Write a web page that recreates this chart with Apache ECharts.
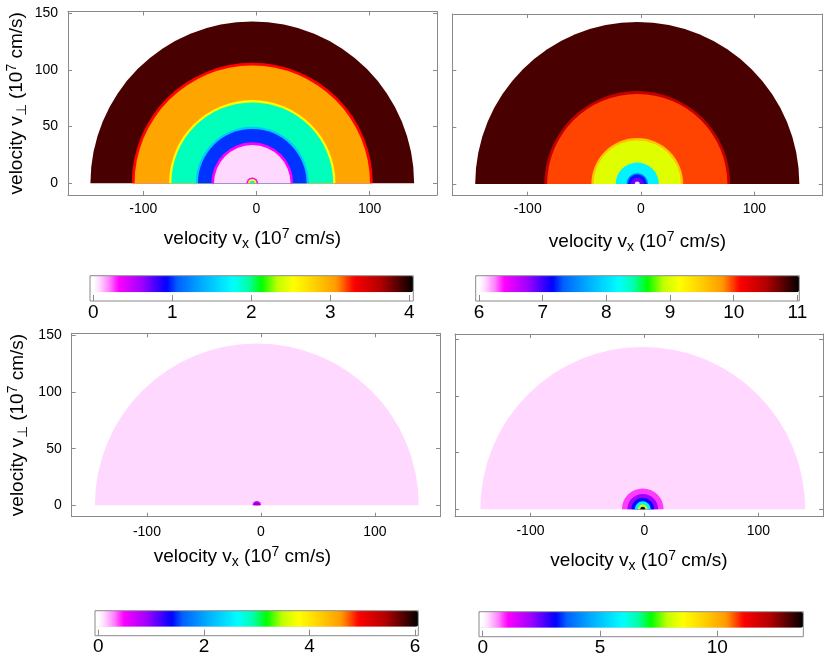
<!DOCTYPE html>
<html>
<head>
<meta charset="utf-8">
<script src="https://cdn.jsdelivr.net/npm/echarts@6/dist/echarts.min.js"></script>
<style>
html,body{margin:0;padding:0;background:#fff;}
#chart{width:830px;height:663px;}
</style>
</head>
<body>
<div id="chart"></div>
<script>
// ---------- data ----------
const xTickValues = [-100, 0, 100];
const yTickValues = [0, 50, 100, 150];
const cb1Ticks = [0, 1, 2, 3, 4];
const cb2Ticks = [6, 7, 8, 9, 10, 11];
const cb3Ticks = [0, 2, 4, 6];
const cb4Ticks = [0, 5, 10];

// rings: outer radius (10^7 cm/s) and colour-scale level, drawn outermost first
const tlCenter = -3.7;
const tlRadius = [143, 106.5, 104, 73.5, 71.5, 50, 48, 36.2, 33.8, 5.2, 3.8, 2.2];
const tlLevel  = [3.88, 3.29, 3.02, 2.53, 1.92, 1.51, 1.00, 0.33, 0.08, 0.33, 2.53, 1.92];

const trCenter = -3.3;
const trRadius = [143, 82, 79.5, 40.5, 38.5, 19, 9.5, 8.3, 5.8, 2.2];
const trLevel  = [10.82, 10.42, 9.98, 9.56, 9.02, 8.13, 7.47, 7.19, 6.91, 6.10];

const blCenter = -3.6;
const blRadius = [142.1, 3.8, 2.8, 1.3];
const blLevel  = [0.12, 0.55, 1.04, 4.96];

const brCenter = -1.5;
const brRadius = [142.5, 18.3, 13.5, 10, 7, 4.2, 2.2];
const brLevel  = [0.26, 0.88, 2.05, 3.16, 5.79, 8.14, 13.53];

// ---------- style ----------
const FONT = '"Liberation Sans", Arial, Helvetica, sans-serif';
const GRAY = '#8a8a8a';
const paletteStops = [
  [0, '#ffffff'], [0.012, '#ffffff'], [0.03, '#ffd8ff'], [0.06, '#ff80ff'], [0.088, '#ff00ff'],
  [0.16, '#a000ff'], [0.237, '#0000ff'], [0.27, '#0060ff'], [0.35, '#00b0ff'], [0.443, '#00ffff'],
  [0.49, '#00ffa8'], [0.531, '#00ff00'], [0.58, '#c0ff00'], [0.629, '#ffff00'], [0.70, '#ffcc00'],
  [0.763, '#ff9900'], [0.80, '#ff3000'], [0.815, '#ff0000'], [0.90, '#b00000'], [1.0, '#000000']
];
function hex2rgb(h){return [parseInt(h.substr(1,2),16),parseInt(h.substr(3,2),16),parseInt(h.substr(5,2),16)];}
function samplePalette(n){
  const out=[];
  for(let i=0;i<n;i++){
    const t=i/(n-1);
    let k=0; while(k<paletteStops.length-2 && t>paletteStops[k+1][0]) k++;
    const a=paletteStops[k], b=paletteStops[k+1];
    const f=(t-a[0])/(b[0]-a[0]);
    const ca=hex2rgb(a[1]), cb=hex2rgb(b[1]);
    const c=ca.map((v,j)=>Math.round(v+(cb[j]-v)*f));
    out.push('rgb('+c.join(',')+')');
  }
  return out;
}
const PALETTE = samplePalette(201);

const rich = {
  t:   {fontSize: 19, fontFamily: FONT, color: '#000', lineHeight: 24},
  sub: {fontSize: 14, fontFamily: FONT, color: '#000', lineHeight: 14, verticalAlign: 'bottom'},
  sup: {fontSize: 14, fontFamily: FONT, color: '#000', lineHeight: 14, verticalAlign: 'top'}
};
const xName = '{t|velocity v}{sub|x}{t| (10}{sup|7}{t| cm/s)}';
const yName = '{t|velocity v}{sub|\u22A5}{t| (10}{sup|7}{t| cm/s)}';

const panels = [
  {grid:{left:68, top:11.5, width:369, height:183.5}, x:[-166.5,159.5], y:[-10.3,151.5], yLab:true, xGap:32, yGap:39, xPad:0, xMargin:7,
   center:tlCenter, radius:tlRadius, level:tlLevel},
  {grid:{left:452.3, top:14, width:370.4, height:181.7}, x:[-166.5,160.3], y:[-10.3,150], yLab:false, xGap:34, yGap:41, xPad:0, xMargin:6,
   center:trCenter, radius:trRadius, level:trLevel},
  {grid:{left:71.7, top:333.3, width:368.3, height:183.4}, x:[-166,157.1], y:[-10,151.8], yLab:true, xGap:28, yGap:42, xPad:27, xMargin:8,
   center:blCenter, radius:blRadius, level:blLevel},
  {grid:{left:455, top:334, width:368, height:182.7}, x:[-166.2,156.6], y:[-6.5,154.7], yLab:false, xGap:32, yGap:41, xPad:0, xMargin:7,
   center:brCenter, radius:brRadius, level:brLevel}
];

const colorbars = [
  {left:90,    top:275.7, width:323.3, height:25.3, band:16.6, min:-0.042, max:4.05,  ticks:cb1Ticks},
  {left:475.7, top:275.7, width:323.6, height:25.3, band:16.6, min:5.948,  max:11.03, ticks:cb2Ticks},
  {left:95,    top:610.7, width:323.3, height:25,   band:16,   min:-0.0625,max:6.06,  ticks:cb3Ticks},
  {left:479,   top:611.7, width:324.3, height:25,   band:16,   min:-0.158, max:13.67, ticks:cb4Ticks}
];

function renderRing(params, api){
  const c = api.coord([api.value(0), 0]);
  const r = api.size([api.value(1), 0])[0];
  return {
    type: 'sector',
    shape: {cx: c[0], cy: c[1], r0: 0, r: r, startAngle: Math.PI, endAngle: 2*Math.PI, clockwise: true},
    style: {fill: api.visual('color'), stroke: null}
  };
}

const grid=[], xAxis=[], yAxis=[], series=[], visualMap=[];
const lineStyle = {color: GRAY, width: 1};

panels.forEach((p, i) => {
  grid.push(Object.assign({containLabel:false}, p.grid));
  const xi = xAxis.length, yi = yAxis.length;
  xAxis.push({
    gridIndex: i, type:'value', min:p.x[0], max:p.x[1], position:'bottom',
    axisLine:{show:true, onZero:false, lineStyle},
    axisTick:{show:true, inside:true, length:4, customValues:xTickValues, lineStyle},
    axisLabel:{customValues:xTickValues, fontSize:14, fontFamily:FONT, color:'#000', margin:p.xMargin},
    splitLine:{show:false},
    name:xName, nameLocation:'middle', nameGap:p.xGap,
    nameTextStyle:{rich, padding:[0, p.xPad, 0, 0]}
  });
  xAxis.push({
    gridIndex: i, type:'value', min:p.x[0], max:p.x[1], position:'top',
    axisLine:{show:true, onZero:false, lineStyle},
    axisTick:{show:true, inside:true, length:4, customValues:xTickValues, lineStyle},
    axisLabel:{show:false}, splitLine:{show:false}
  });
  yAxis.push({
    gridIndex: i, type:'value', min:p.y[0], max:p.y[1], position:'left',
    axisLine:{show:true, onZero:false, lineStyle},
    axisTick:{show:true, inside:true, length:4, customValues:yTickValues, lineStyle},
    axisLabel:{show:p.yLab, customValues:yTickValues, fontSize:14, fontFamily:FONT, color:'#000', margin:10},
    splitLine:{show:false},
    name: p.yLab ? yName : '', nameLocation:'middle', nameGap:p.yGap, nameRotate:90,
    nameTextStyle:{rich}
  });
  yAxis.push({
    gridIndex: i, type:'value', min:p.y[0], max:p.y[1], position:'right',
    axisLine:{show:true, onZero:false, lineStyle},
    axisTick:{show:true, inside:true, length:4, customValues:yTickValues, lineStyle},
    axisLabel:{show:false}, splitLine:{show:false}
  });
  const data = p.radius.map((r, k) => [p.center, r, p.level[k]]);
  series.push({
    type:'custom', name:'panel'+(i+1), xAxisIndex:xi, yAxisIndex:yi,
    renderItem: renderRing, data: data, clip: true, silent: true,
    encode:{x:0, y:1}
  });
});

colorbars.forEach((cb, k) => {
  const gi = grid.length;
  grid.push({left:cb.left, top:cb.top, width:cb.width, height:cb.height, show:true,
             borderColor:GRAY, borderWidth:1, backgroundColor:'rgba(0,0,0,0)', z:10});
  xAxis.push({
    gridIndex:gi, type:'value', min:cb.min, max:cb.max, position:'bottom',
    axisLine:{show:false},
    axisTick:{show:true, inside:true, length:6, customValues:cb.ticks, lineStyle},
    axisLabel:{customValues:cb.ticks, fontSize:19, fontFamily:FONT, color:'#000', margin:2},
    splitLine:{show:false}
  });
  yAxis.push({gridIndex:gi, type:'value', min:0, max:1, show:false});
  visualMap.push({
    type:'continuous', min:cb.min, max:cb.max, seriesIndex:k, dimension:2,
    orient:'horizontal', left:cb.left, top:cb.top, itemWidth:cb.band, itemHeight:cb.width,
    calculable:false, hoverLink:false, padding:0, inRange:{color:PALETTE}
  });
});

const chart = echarts.init(document.getElementById('chart'), null, {renderer:'canvas'});
chart.setOption({animation:false, backgroundColor:'#fff', grid, xAxis, yAxis, series, visualMap});
</script>
</body>
</html>
